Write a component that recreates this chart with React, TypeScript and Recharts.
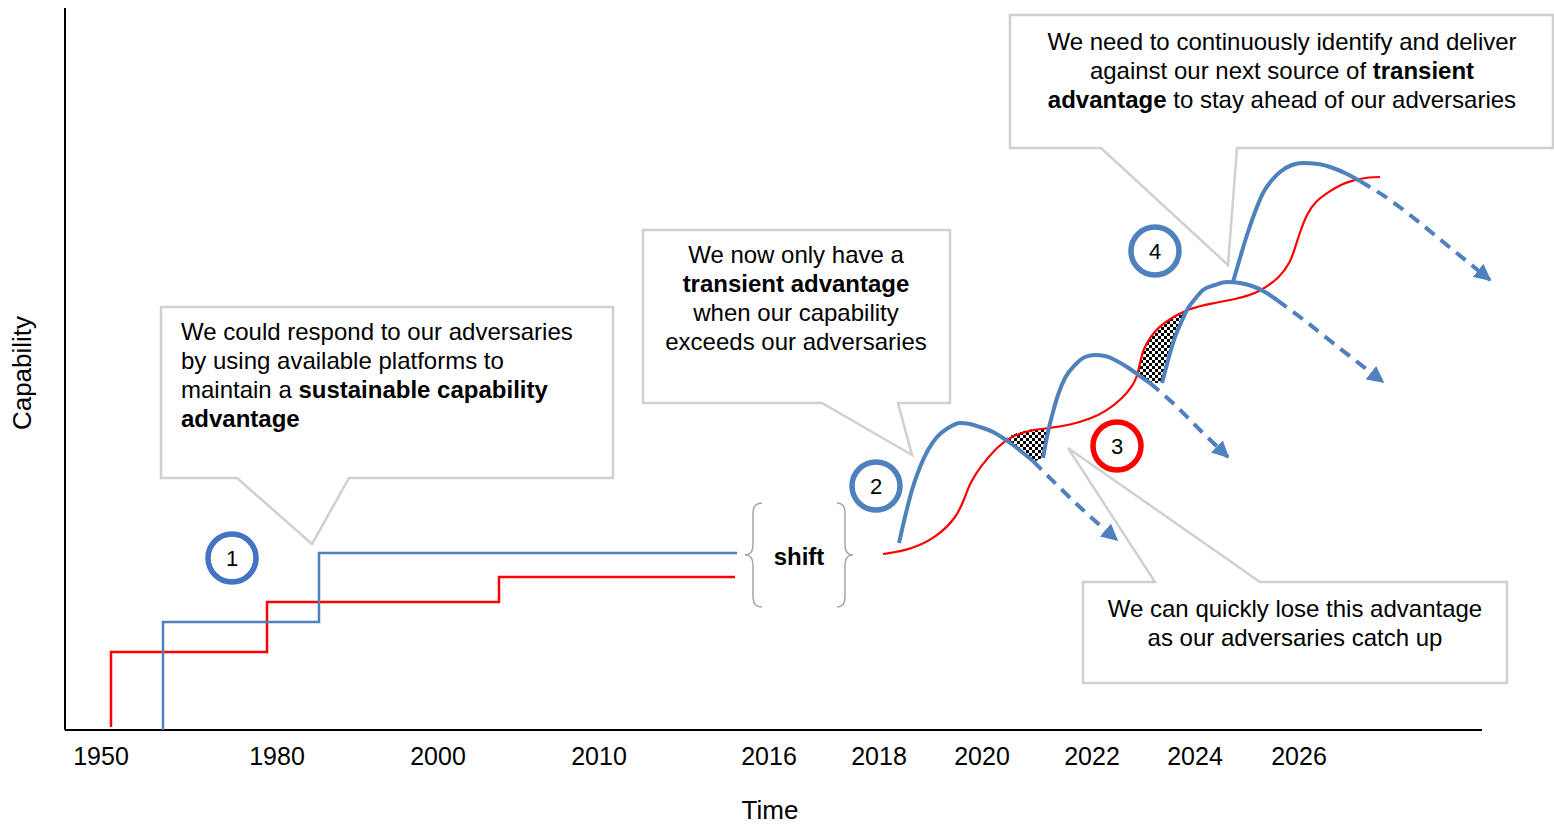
import React from 'react';
import { ComposedChart, Line, Area, XAxis, YAxis, ReferenceLine } from 'recharts';

const FONT = '"Liberation Sans", Arial, Helvetica, sans-serif';
const BLUE = '#4F81BD';
const DARK_BLUE = '#4472C4';
const RED = '#FF0000';
const BOX_GREY = '#D0D0D0';
const W = 1554;
const H = 824;

// position of each labelled year along the time axis
const yearTicks = [101, 277, 438, 599, 769, 879, 982, 1092, 1195, 1299];
const yearLabels = ['1950', '1980', '2000', '2010', '2016', '2018', '2020', '2022', '2024', '2026'];

// sustainable era: step changes in capability
const redStepX = [111, 111, 267, 267, 499, 499, 735];
const redStepY = [3, 78, 78, 128, 128, 153, 153];
const blueStepX = [163, 163, 319, 319, 737];
const blueStepY = [0, 108, 108, 177, 177];

// adversary capability after the shift
const redCurveX = [883, 910, 937, 957, 965, 970, 980, 997, 1010, 1030, 1050, 1070, 1090, 1105, 1123, 1133, 1137, 1140, 1143, 1150, 1160, 1170, 1187, 1213, 1237, 1260, 1280, 1290, 1295, 1299, 1307, 1317, 1327, 1340, 1353, 1370, 1380];
const redCurveY = [176, 180, 193, 213, 233, 247, 263, 283, 293, 300, 302, 305, 311, 318, 332, 345, 353, 367, 380, 393, 404, 411, 421, 427, 431, 438, 453, 467, 482, 495, 517, 530, 537, 545, 550, 553, 553];

// our capability: one hump per source of transient advantage
const humpsX = [
  [899, 905, 912, 920, 928, 937, 948, 960, 970, 980, 993, 1003, 1013, 1022, 1033],
  [1043, 1048, 1053, 1058, 1065, 1075, 1085, 1095, 1105, 1115, 1127, 1140, 1150],
  [1162, 1166, 1170, 1175, 1180, 1187, 1195, 1203, 1215, 1227, 1240, 1252, 1265, 1277],
  [1233, 1240, 1247, 1255, 1263, 1272, 1280, 1292, 1303, 1318, 1333, 1347, 1360],
];
const humpsY = [
  [187, 213, 240, 263, 280, 293, 302, 307, 306, 303, 298, 292, 285, 278, 269],
  [272, 298, 318, 335, 352, 365, 373, 375, 374, 370, 363, 354, 347],
  [347, 362, 377, 393, 405, 420, 431, 440, 445, 448, 447, 444, 438, 430],
  [448, 472, 495, 518, 537, 550, 558, 565, 567, 566, 562, 556, 549],
];
// projected decline (dashed arrows)
const declineX = [
  [1033, 1057, 1083, 1117],
  [1150, 1175, 1200, 1228],
  [1277, 1300, 1333, 1383],
  [1360, 1390, 1420, 1453, 1490],
];
const declineY = [
  [269, 245, 220, 190],
  [347, 325, 300, 273],
  [430, 413, 387, 348],
  [549, 530, 507, 480, 450],
];

// shaded gaps where the adversary overtakes us
const gap1X = [1005, 1012, 1020, 1028, 1034, 1040, 1044, 1047];
const gap1Lo = [291, 286, 280, 273, 269, 270, 279, 294];
const gap1Hi = [291, 295, 298, 300, 301, 301, 302, 302];
const gap2X = [1137, 1140, 1145, 1150, 1155, 1160, 1163, 1167, 1173, 1178, 1184];
const gap2Lo = [353, 355, 351, 348, 347, 347, 352, 364, 384, 401, 416];
const gap2Hi = [353, 367, 384, 393, 399, 404, 406, 409, 413, 415, 417];

type Seg = [string, boolean];
const callout1: Seg[][] = [
  [['We could respond to our adversaries', false]],
  [['by using available platforms to', false]],
  [['maintain a ', false], ['sustainable capability', true]],
  [['advantage', true]],
];
const callout2: Seg[][] = [
  [['We now only have a', false]],
  [['transient advantage', true]],
  [['when our capability', false]],
  [['exceeds our adversaries', false]],
];
const callout3: Seg[][] = [
  [['We need to continuously identify and deliver', false]],
  [['against our next source of ', false], ['transient', true]],
  [['advantage', true], [' to stay ahead of our adversaries', false]],
];
const callout4: Seg[][] = [
  [['We can quickly lose this advantage', false]],
  [['as our adversaries catch up', false]],
];

const pts = (xs: number[], ys: number[]) => xs.map((x, i) => ({ x, y: ys[i] }));
const band = (xs: number[], lo: number[], hi: number[]) => xs.map((x, i) => ({ x, r: [lo[i], hi[i]] }));

const YearTick = (props: any) => {
  const { x, y, payload } = props;
  const i = yearTicks.indexOf(payload.value);
  return (
    <text x={x} y={y} dy={35} textAnchor="middle" fontSize={25} fontFamily={FONT} fill="#000">
      {yearLabels[i]}
    </text>
  );
};

interface Box { x: number; y: number; w: number; h: number }
interface Pointer { side: 'top' | 'bottom'; a: number; b: number; tx: number; ty: number }

const calloutPath = (bx: Box, p: Pointer) => {
  const { x, y, w, h } = bx;
  if (p.side === 'bottom') {
    return `M${x},${y} H${x + w} V${y + h} H${p.b} L${p.tx},${p.ty} L${p.a},${y + h} H${x} Z`;
  }
  return `M${x},${y} H${p.a} L${p.tx},${p.ty} L${p.b},${y} H${x + w} V${y + h} H${x} Z`;
};

const Callout = ({ box, pointer, lines, tx, ty, anchor }: {
  box: Box; pointer: Pointer; lines: Seg[][]; tx: number; ty: number; anchor: 'start' | 'middle';
}) => (
  <g>
    <path d={calloutPath(box, pointer)} fill="#fff" stroke={BOX_GREY} strokeWidth={2.5} strokeLinejoin="miter" />
    {lines.map((line, i) => (
      <text key={i} x={tx} y={ty + i * 29} textAnchor={anchor} fontSize={24} fontFamily={FONT} fill="#000" style={{ whiteSpace: 'pre' }}>
        {line.map(([t, b], j) => (
          <tspan key={j} fontWeight={b ? 'bold' : 'normal'}>{t}</tspan>
        ))}
      </text>
    ))}
  </g>
);

const Badge = ({ cx, cy, n, color }: { cx: number; cy: number; n: string; color: string }) => (
  <g>
    <circle cx={cx} cy={cy} r={24} fill="#fff" stroke={color} strokeWidth={5.5} />
    <text x={cx} y={cy + 8} textAnchor="middle" fontSize={22} fontFamily={FONT} fill="#000">{n}</text>
  </g>
);

export default function App() {
  const lineProps = { dataKey: 'y', dot: false, activeDot: false, isAnimationActive: false } as const;
  return (
    <div style={{ position: 'absolute', left: 0, top: 0, width: W, height: H, background: '#fff' }}>
      <svg width={0} height={0} style={{ position: 'absolute' }}>
        <defs>
          <pattern id="checker" width={6} height={6} patternUnits="userSpaceOnUse">
            <rect width={6} height={6} fill="#fff" />
            <rect width={3} height={3} fill="#000" />
            <rect x={3} y={3} width={3} height={3} fill="#000" />
          </pattern>
          <marker id="arrowHead" viewBox="0 0 10 10" refX={9} refY={5} markerWidth={17} markerHeight={17} markerUnits="userSpaceOnUse" orient="auto">
            <path d="M0,0 L10,5 L0,10 z" fill={BLUE} />
          </marker>
        </defs>
      </svg>
      <ComposedChart width={W} height={H} margin={{ top: 8, right: 64, bottom: 0, left: 0 }}>
        <XAxis
          type="number"
          dataKey="x"
          domain={[65, 1490]}
          ticks={yearTicks}
          interval={0}
          tick={(p: any) => <YearTick {...p} />}
          tickLine={false}
          tickSize={0}
          tickMargin={0}
          axisLine={false}
          height={94}
          label={() => (
            <text x={770} y={819} textAnchor="middle" fontSize={26} fontFamily={FONT} fill="#000">Time</text>
          )}
        />
        <YAxis
          type="number"
          domain={[0, 722]}
          width={65}
          tick={false}
          tickLine={false}
          axisLine={{ stroke: '#000', strokeWidth: 2 }}
          label={() => (
            <text x={31} y={373} transform="rotate(-90 31 373)" textAnchor="middle" fontSize={26} fontFamily={FONT} fill="#000">Capability</text>
          )}
        />
        <ReferenceLine segment={[{ x: 65, y: 0 }, { x: 1482, y: 0 }]} stroke="#000" strokeWidth={2} />

        <Area data={band(gap1X, gap1Lo, gap1Hi)} dataKey="r" type="linear" stroke="none" fill="url(#checker)" fillOpacity={1} isAnimationActive={false} dot={false} activeDot={false} />
        <Area data={band(gap2X, gap2Lo, gap2Hi)} dataKey="r" type="linear" stroke="none" fill="url(#checker)" fillOpacity={1} isAnimationActive={false} dot={false} activeDot={false} />

        <Line {...lineProps} data={pts(redStepX, redStepY)} type="linear" stroke={RED} strokeWidth={2.5} />
        <Line {...lineProps} data={pts(blueStepX, blueStepY)} type="linear" stroke={BLUE} strokeWidth={2.5} />
        <Line {...lineProps} data={pts(redCurveX, redCurveY)} type="basis" stroke={RED} strokeWidth={2.2} />

        {humpsX.map((xs, i) => (
          <Line key={`h${i}`} {...lineProps} data={pts(xs, humpsY[i])} type="monotone" stroke={BLUE} strokeWidth={4} />
        ))}
        {declineX.map((xs, i) => (
          <Line key={`d${i}`} {...lineProps} data={pts(xs, declineY[i])} type="monotone" stroke={BLUE} strokeWidth={4} strokeDasharray="12 8" markerEnd="url(#arrowHead)" />
        ))}
      </ComposedChart>

      <svg width={W} height={H} style={{ position: 'absolute', left: 0, top: 0, pointerEvents: 'none' }}>
        <Callout box={{ x: 161, y: 307, w: 452, h: 171 }} pointer={{ side: 'bottom', a: 237, b: 349, tx: 312, ty: 544 }} lines={callout1} tx={181} ty={340} anchor="start" />
        <Callout box={{ x: 643, y: 230, w: 307, h: 173 }} pointer={{ side: 'bottom', a: 822, b: 898, tx: 912, ty: 455 }} lines={callout2} tx={796} ty={263} anchor="middle" />
        <Callout box={{ x: 1010, y: 15, w: 543, h: 133 }} pointer={{ side: 'bottom', a: 1101, b: 1237, tx: 1228, ty: 265 }} lines={callout3} tx={1282} ty={50} anchor="middle" />
        <Callout box={{ x: 1083, y: 582, w: 424, h: 101 }} pointer={{ side: 'top', a: 1155, b: 1260, tx: 1068, ty: 448 }} lines={callout4} tx={1295} ty={617} anchor="middle" />

        <path d="M762,503 Q753,503 753,513 V545 Q753,555 745,555 Q753,555 753,565 V597 Q753,607 762,607" fill="none" stroke="#A6A6A6" strokeWidth={1.5} />
        <path d="M837,503 Q845,503 845,513 V545 Q845,555 853,555 Q845,555 845,565 V597 Q845,607 837,607" fill="none" stroke="#A6A6A6" strokeWidth={1.5} />
        <text x={799} y={565} textAnchor="middle" fontSize={24} fontWeight="bold" fontFamily={FONT} fill="#000">shift</text>

        <Badge cx={232} cy={558} n="1" color={DARK_BLUE} />
        <Badge cx={876} cy={486} n="2" color={BLUE} />
        <Badge cx={1117} cy={446} n="3" color={RED} />
        <Badge cx={1155} cy={251} n="4" color={BLUE} />
      </svg>
    </div>
  );
}
